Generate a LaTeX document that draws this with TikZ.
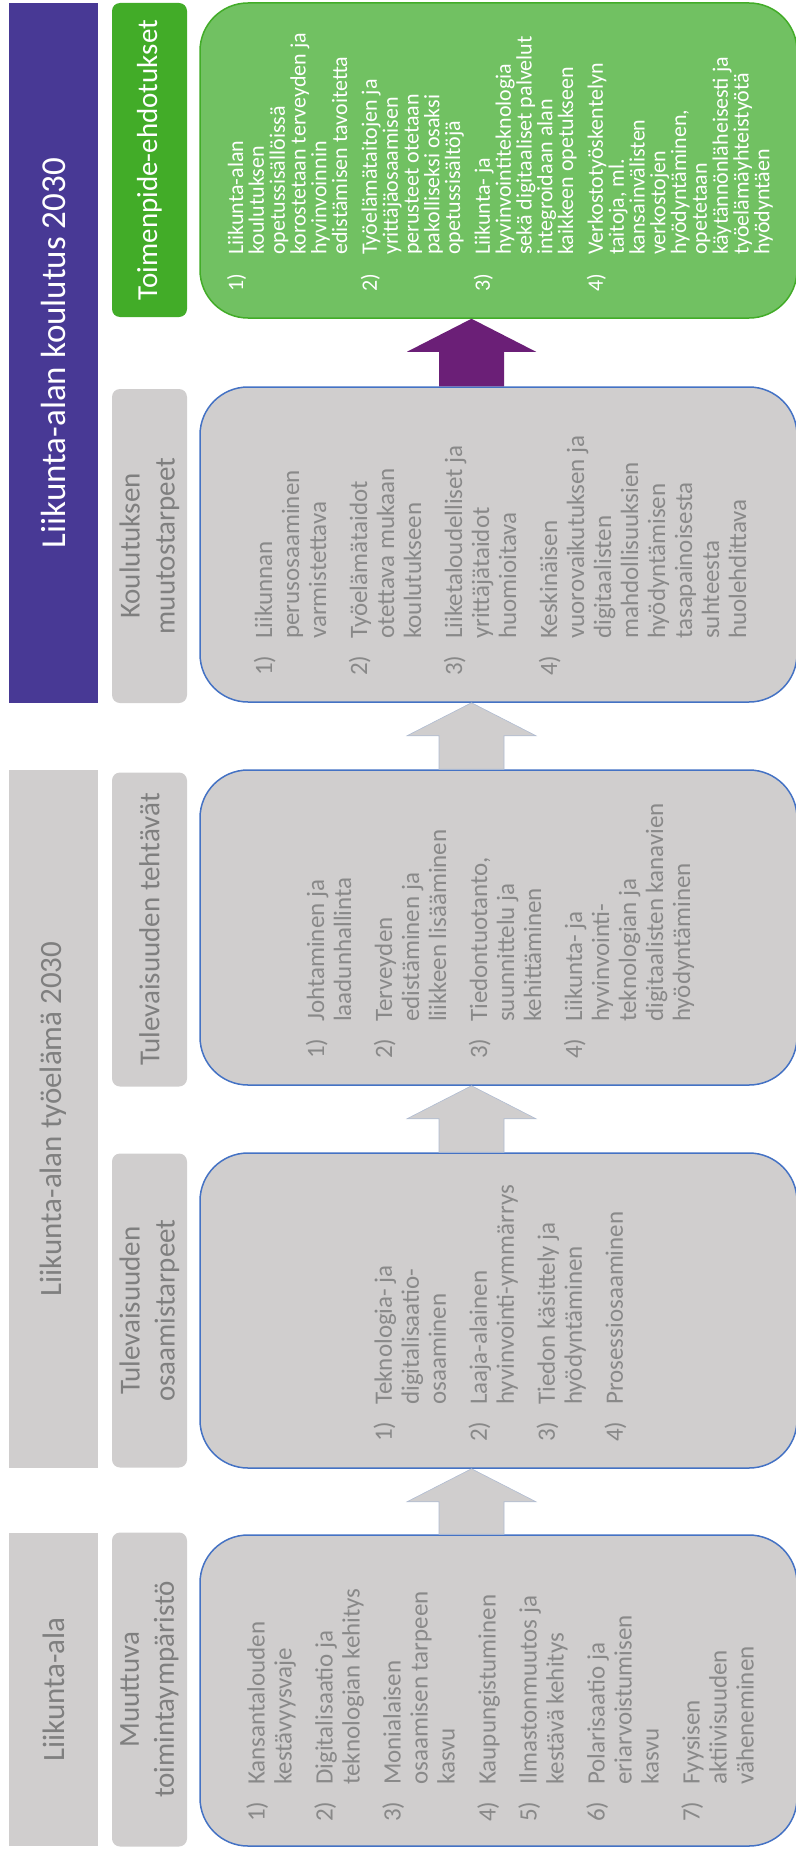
\documentclass[tikz,border=0pt]{standalone}
\usepackage{fontspec}
\setmainfont{Carlito}
\usetikzlibrary{positioning}

\definecolor{harmaa}{RGB}{208,206,206}
\definecolor{sininen}{RGB}{68,114,196}
\definecolor{tekstiharmaa}{RGB}{137,137,137}
\definecolor{otsikkoharmaa}{RGB}{127,127,127}
\definecolor{vihrea}{RGB}{113,193,98}
\definecolor{tummavihrea}{RGB}{66,172,40}
\definecolor{violetti}{RGB}{72,57,149}
\definecolor{purppura}{RGB}{107,31,119}
\definecolor{nuolireuna}{RGB}{176,188,210}

\setlength{\lineskiplimit}{-100pt}
\newcommand{\nro}[1]{\makebox[37pt][l]{#1}}
\newcommand{\sis}{\hspace*{37pt}}

\begin{document}
\begin{tikzpicture}[
        x=1pt, y=-1pt,
        palkki/.style={
            rectangle,
            rotate=90,
            fill=harmaa,
            text=otsikkoharmaa,
            minimum height=89pt,
            inner sep=0pt,
            font=\fontsize{31}{37}\selectfont
        },
        otsikko/.style={
            rectangle,
            rounded corners=8pt,
            rotate=90,
            fill=harmaa,
            text=otsikkoharmaa,
            minimum width=314pt,
            minimum height=75pt,
            inner sep=0pt,
            align=center,
            font=\fontsize{29}{35}\selectfont
        },
        laatikko/.style={
            rectangle,
            rounded corners=48pt,
            draw=sininen,
            line width=1.5pt,
            fill=harmaa,
            minimum width=597pt,
            minimum height=315pt
        },
        lista/.style={
            rotate=90,
            anchor=west,
            inner sep=0pt,
            align=left,
            text=tekstiharmaa,
            font=\fontsize{25}{27}\selectfont
        },
        blokki/.style={to path={
            ([xshift=-32.5pt]\tikztostart) -- ([xshift=-32.5pt,yshift=-33pt]\tikztotarget)
            -- ([xshift=-64.5pt,yshift=-33pt]\tikztotarget) -- (\tikztotarget)
            -- ([xshift=64.5pt,yshift=-33pt]\tikztotarget) -- ([xshift=32.5pt,yshift=-33pt]\tikztotarget)
            -- ([xshift=32.5pt]\tikztostart) -- cycle}},
        harmaanuoli/.style={fill=harmaa, draw=nuolireuna, line width=0.6pt}
    ]

    \useasboundingbox (0,0) rectangle (795,1849);

    % Palkit
    \node[palkki, fill=violetti, text=white, minimum width=700pt,
          font=\fontsize{35}{40}\selectfont] (p3) at (53.5,353) {Liikunta-alan koulutus 2030};
    \node[palkki, minimum width=698pt] (p2) at (53.5,1119) {Liikunta-alan työelämä 2030};
    \node[palkki, minimum width=313pt] (p1) at (53.5,1689.5) {Liikunta-ala};

    % Otsikot
    \node[otsikko, fill=tummavihrea, text=white] (o1) at (149.5,160) {Toimenpide-ehdotukset};
    \node[otsikko] (o2) at (149.5,546)    {Koulutuksen\\muutostarpeet};
    \node[otsikko] (o3) at (149.5,929.5)  {Tulevaisuuden tehtävät};
    \node[otsikko] (o4) at (149.5,1310.5) {Tulevaisuuden\\osaamistarpeet};
    \node[otsikko] (o5) at (149.5,1689.5) {Muuttuva\\toimintaympäristö};

    % Laatikot
    \node[laatikko, draw=tummavihrea, fill=vihrea] (k1) at (498.5,160.5) {};
    \node[laatikko] (k2) at (498.5,544.5)  {};
    \node[laatikko] (k3) at (498.5,927.5)  {};
    \node[laatikko] (k4) at (498.5,1310.5) {};
    \node[laatikko, minimum height=311pt] (k5) at (498.5,1690.5) {};

    % Nuolet
    \draw[harmaanuoli] ([xshift=-27pt]k5.north) to[blokki] ([xshift=-27pt]k4.south);
    \draw[harmaanuoli] ([xshift=-27pt]k4.north) to[blokki] ([xshift=-27pt]k3.south);
    \draw[harmaanuoli] ([xshift=-27pt]k3.north) to[blokki] ([xshift=-27pt]k2.south);
    \fill[purppura]    ([xshift=-27pt]k2.north) to[blokki] ([xshift=-27pt]k1.south);

    % Listat
    \node[lista, text=white, font=\fontsize{22}{20.8}\selectfont] (l1) at (500,292) {%
        \nro{1)}Liikunta-alan\\ \sis koulutuksen\\ \sis opetussisällöissä\\
        \sis korostetaan terveyden ja\\ \sis hyvinvoinnin\\ \sis edistämisen tavoitetta\\[9pt]
        \nro{2)}Työelämätaitojen ja\\ \sis yrittäjäosaamisen\\ \sis perusteet otetaan\\
        \sis pakolliseksi osaksi\\ \sis opetussisältöjä\\[9pt]
        \nro{3)}Liikunta- ja\\ \sis hyvinvointiteknologia\\ \sis sekä digitaaliset palvelut\\
        \sis integroidaan alan\\ \sis kaikkeen opetukseen\\[9pt]
        \nro{4)}Verkostotyöskentelyn\\ \sis taitoja, ml.\\ \sis kansainvälisten\\
        \sis verkostojen\\ \sis hyödyntäminen,\\ \sis opetetaan\\
        \sis käytännönläheisesti ja\\ \sis työelämäyhteistyötä\\ \sis hyödyntäen};
    \node[lista] (l2) at (500,676) {%
        \nro{1)}Liikunnan\\ \sis perusosaaminen\\ \sis varmistettava\\[14pt]
        \nro{2)}Työelämätaidot\\ \sis otettava mukaan\\ \sis koulutukseen\\[14pt]
        \nro{3)}Liiketaloudelliset ja\\ \sis yrittäjätaidot\\ \sis huomioitava\\[14pt]
        \nro{4)}Keskinäisen\\ \sis vuorovaikutuksen ja\\ \sis digitaalisten\\
        \sis mahdollisuuksien\\ \sis hyödyntämisen\\ \sis tasapainoisesta\\
        \sis suhteesta\\ \sis huolehdittava};
    \node[lista] (l3) at (500,1059) {%
        \nro{1)}Johtaminen ja\\ \sis laadunhallinta\\[14pt]
        \nro{2)}Terveyden\\ \sis edistäminen ja\\ \sis liikkeen lisääminen\\[14pt]
        \nro{3)}Tiedontuotanto,\\ \sis suunnittelu ja\\ \sis kehittäminen\\[14pt]
        \nro{4)}Liikunta- ja\\ \sis hyvinvointi-\\ \sis teknologian ja\\
        \sis digitaalisten kanavien\\ \sis hyödyntäminen};
    \node[lista] (l4) at (500,1442) {%
        \nro{1)}Teknologia- ja\\ \sis digitalisaatio-\\ \sis osaaminen\\[14pt]
        \nro{2)}Laaja-alainen\\ \sis hyvinvointi-ymmärrys\\[14pt]
        \nro{3)}Tiedon käsittely ja\\ \sis hyödyntäminen\\[14pt]
        \nro{4)}Prosessiosaaminen};
    \node[lista] (l5) at (500,1822) {%
        \nro{1)}Kansantalouden\\ \sis kestävyysvaje\\[14pt]
        \nro{2)}Digitalisaatio ja\\ \sis teknologian kehitys\\[14pt]
        \nro{3)}Monialaisen\\ \sis osaamisen tarpeen\\ \sis kasvu\\[14pt]
        \nro{4)}Kaupungistuminen\\[14pt]
        \nro{5)}Ilmastonmuutos ja\\ \sis kestävä kehitys\\[14pt]
        \nro{6)}Polarisaatio ja\\ \sis eriarvoistumisen\\ \sis kasvu\\[14pt]
        \nro{7)}Fyysisen\\ \sis aktiivisuuden\\ \sis väheneminen};

\end{tikzpicture}
\end{document}
